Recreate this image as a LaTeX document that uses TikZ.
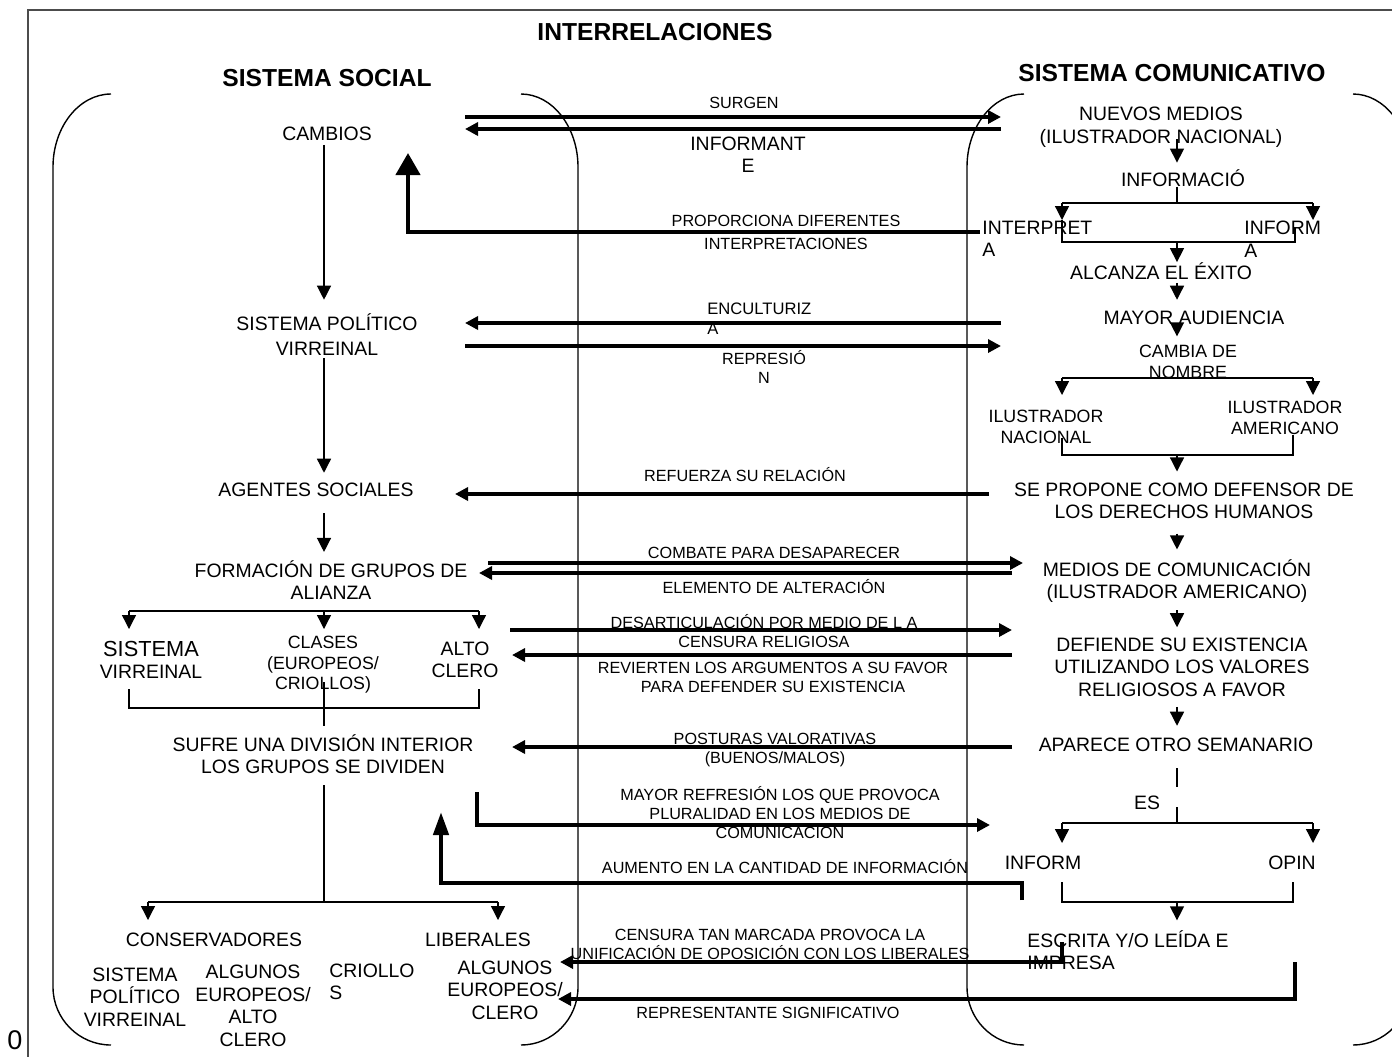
\documentclass[tikz,border=0pt]{standalone}
\usepackage{fontspec}
\setmainfont{Liberation Sans}
\usetikzlibrary{positioning,arrows.meta,calc}

\begin{document}
\begin{tikzpicture}[x=0.5pt,y=-0.5pt,
    txt/.style={inner sep=0pt,align=center,font=\fontsize{9.7}{11.25}\selectfont},
    txts/.style={inner sep=0pt,align=center,font=\fontsize{8.9}{10.3}\selectfont},
    lbl/.style={inner sep=0pt,align=center,font=\fontsize{8.1}{9.5}\selectfont},
    hdr/.style={inner sep=0pt,font=\bfseries\fontsize{12.3}{14}\selectfont},
    bar/.style={line width=0.65pt},
    flow/.style={line width=0.65pt,-{Triangle[length=7pt,width=7pt]}},
    link/.style={line width=1.75pt,-{Triangle[length=6.5pt,width=6.5pt]}},
    fat/.style={line width=2.2pt,-{Triangle[length=11pt,width=12pt]}},
    curl/.style={line width=0.7pt}]
    \path[use as bounding box] (0,0) rectangle (1392,1056);
    \clip (0,0) rectangle (1392,1056);
    % marco y parentesis
    \draw[line width=1pt,black!70] (28,1070) -- (28,10) -- (1400,10);
    \foreach \e/\v in {111/53,521/578,1024/967,1353/1410}
      \draw[curl] (\e,94) .. controls ({\e+0.55*(\v-\e)},94) and (\v,127) .. (\v,167) -- (\v,987)
        .. controls (\v,1019) and ({\e+0.55*(\v-\e)},1045) .. (\e,1045);
    \node[txt,font=\fontsize{13.5}{16}\selectfont] (cero) at (15,1040) {0};
    % titulos
    \node[hdr] (inter) at (655,32) {INTERRELACIONES};
    \node[hdr] (ssoc) at (327,78) {SISTEMA SOCIAL};
    \node[hdr] (scom) at (1172,73) {SISTEMA COMUNICATIVO};

    % sistema social
    \node[txt] (cambios) at (327,134) {CAMBIOS};
    \node[txt,font=\fontsize{9.7}{12.5}\selectfont] (spv) at (327,335) {SISTEMA POLÍTICO\\VIRREINAL};
    \node[txt] (agentes) at (316,490) {AGENTES SOCIALES};
    \node[txt] (formacion) at (331,580) {FORMACIÓN DE GRUPOS DE\\ALIANZA};
    \node[txt] (sisvir) at (151,660) {{\fontsize{10.9}{12}\selectfont SISTEMA}\\VIRREINAL};
    \node[txts] (clases) at (323,665) {CLASES\\(EUROPEOS/\\CRIOLLOS)};
    \node[txt] (alto) at (465,660) {ALTO\\CLERO};
    \node[txt] (sufre) at (323,754) {SUFRE UNA DIVISIÓN INTERIOR\\LOS GRUPOS SE DIVIDEN};
    \node[txt] (conserv) at (214,940) {CONSERVADORES};
    \node[txt] (liberales) at (478,940) {LIBERALES};
    \node[txt] (spv2) at (135,997) {SISTEMA\\POLÍTICO\\VIRREINAL};
    \node[txt] (alg1) at (253,1006) {ALGUNOS\\EUROPEOS/\\ALTO\\CLERO};
    \node[txt,anchor=west,align=left] (criollo) at (329,982) {CRIOLLO\\S};
    \node[txt] (alg2) at (505,990) {ALGUNOS\\EUROPEOS/\\CLERO};

    % sistema comunicativo
    \node[txt] (nuevos) at (1161,127) {NUEVOS MEDIOS\\(ILUSTRADOR NACIONAL)};
    \node[txt] (informacion) at (1183,178) {INFORMACIÓ};
    \node[txt,anchor=west,align=left] (interpreta) at (982,239) {INTERPRET\\A};
    \node[txt,anchor=west,align=left] (informa) at (1244,239) {INFORM\\A};
    \node[txt] (alcanza) at (1161,271) {ALCANZA EL ÉXITO};
    \node[txt] (mayor) at (1194,318) {MAYOR AUDIENCIA};
    \begin{scope}
      \clip (1100,330) rectangle (1280,379);
      \node[txts] (cambia) at (1188,362) {CAMBIA DE\\NOMBRE};
    \end{scope}
    \node[txts] (ilnac) at (1046,427) {ILUSTRADOR\\NACIONAL};
    \node[txts] (ilam) at (1285,418) {ILUSTRADOR\\AMERICANO};
    \node[txt] (propone) at (1184,501) {SE PROPONE COMO DEFENSOR DE\\LOS DERECHOS HUMANOS};
    \node[txt] (medios) at (1177,581) {MEDIOS DE COMUNICACIÓN\\(ILUSTRADOR AMERICANO)};
    \node[txt] (defiende) at (1182,667) {DEFIENDE SU EXISTENCIA\\UTILIZANDO LOS VALORES\\RELIGIOSOS A FAVOR};
    \node[txt] (aparece) at (1176,745) {APARECE OTRO SEMANARIO};
    \node[txt] (es) at (1147,803) {ES};
    \node[txt] (inform) at (1043,863) {INFORM};
    \node[txt] (opin) at (1292,863) {OPIN};
    \node[txt,anchor=west,align=left] (escrita) at (1027,950) {ESCRITA Y/O LEÍDA E\\IMPRESA};

    % interrelaciones
    \node[lbl] (surgen) at (744,103) {SURGEN};
    \node[txt,font=\fontsize{9.7}{11}\selectfont] (informante) at (748,155) {INFORMANT\\E};
    \node[lbl,font=\fontsize{8.1}{11.5}\selectfont] (proporciona) at (786,232) {PROPORCIONA DIFERENTES\\INTERPRETACIONES};
    \node[lbl,anchor=west,align=left,font=\fontsize{8.3}{10}\selectfont] (enculturiza) at (707,319) {ENCULTURIZ\\A};
    \node[lbl] (represion) at (764,367) {REPRESIÓ\\N};
    \node[lbl] (refuerza) at (745,475) {REFUERZA SU RELACIÓN};
    \node[lbl] (combate) at (774,553) {COMBATE PARA DESAPARECER};
    \node[lbl] (elemento) at (774,587) {ELEMENTO DE ALTERACIÓN};
    \node[lbl] (desart) at (764,631) {DESARTICULACIÓN POR MEDIO DE L A\\CENSURA RELIGIOSA};
    \node[lbl] (revierten) at (773,677) {REVIERTEN LOS ARGUMENTOS A SU FAVOR\\PARA DEFENDER SU EXISTENCIA};
    \node[lbl] (posturas) at (775,750) {POSTURAS VALORATIVAS\\(BUENOS/MALOS)};
    \node[lbl] (refresion) at (780,813) {MAYOR REFRESIÓN LOS QUE PROVOCA\\PLURALIDAD EN LOS MEDIOS DE\\COMUNICACIÓN};
    \node[lbl] (aumento) at (785,867) {AUMENTO EN LA CANTIDAD DE INFORMACIÓN};
    \node[lbl] (censura) at (770,944) {CENSURA TAN MARCADA PROVOCA LA\\UNIFICACIÓN DE OPOSICIÓN CON LOS LIBERALES};
    \node[lbl] (represent) at (768,1013) {REPRESENTANTE SIGNIFICATIVO};

    % flechas entre los dos sistemas
    \foreach \n/\xa/\xb/\y in {sur/465/1001/117, inf/1001/465/129, enc/1001/465/323, rep/465/1001/346,
        ref/989/455/494, com/488/1023/563, ele/1012/479/573, des/510/1012/630, rev/1012/512/655, pos/1012/512/747}{
      \coordinate (\n-a) at (\xa,\y);
      \coordinate (\n-b) at (\xb,\y);
      \draw[link] (\n-a) -- (\n-b);
    }
    \coordinate (pro-a) at (980,232); \coordinate (pro-b) at (408,232); \coordinate (pro-c) at (408,153);
    \draw[fat] (pro-a) -- (pro-b) -- (pro-c);
    \coordinate (mr-a) at (477,792); \coordinate (mr-b) at (477,825); \coordinate (mr-c) at (990,825);
    \draw[link,line width=2pt] (mr-a) -- (mr-b) -- (mr-c);
    \coordinate (au-a) at (1022,900); \coordinate (au-b) at (1022,883); \coordinate (au-c) at (441,883); \coordinate (au-d) at (441,812);
    \draw[fat,-{Triangle[length=11.5pt,width=7.5pt]}] (au-a) -- (au-b) -- (au-c) -- (au-d);
    \coordinate (ce-a) at (1062,942); \coordinate (ce-b) at (1062,962); \coordinate (ce-c) at (560,962);
    \draw[link] (ce-a) -- (ce-b) -- (ce-c);
    \coordinate (re-a) at (1295,962); \coordinate (re-b) at (1295,999); \coordinate (re-c) at (558,999);
    \draw[link] (re-a) -- (re-b) -- (re-c);

    % arbol izquierdo
    \coordinate (lax) at (324,0);
    \draw[flow,shorten <=1.75pt,shorten >=7pt] (cambios.south -| lax) -- (spv.north -| lax);
    \draw[flow,shorten <=1pt,shorten >=5pt] (spv.south -| lax) -- (agentes.north -| lax);
    \draw[flow,shorten <=8pt,shorten >=4pt] (agentes.south -| lax) -- (formacion.north -| lax);
    \coordinate (fb-l) at (129,611); \coordinate (fb-m) at (324,611); \coordinate (fb-r) at (479,611);
    \coordinate (fb-t) at (0,629); \coordinate (gb) at (0,708);
    \draw[bar] (fb-l) -- (fb-r);
    \foreach \c in {fb-l,fb-m,fb-r} \draw[flow] (\c) -- (\c |- fb-t);
    \draw[bar,shorten <=5pt,shorten >=5pt] (sisvir.south -| fb-l) -- (fb-l |- gb) -- (fb-r |- gb) -- (alto.south -| fb-r);
    \draw[bar,shorten <=-6pt,shorten >=3.75pt] (clases.south -| lax) -- (sufre.north -| lax);
    \coordinate (sb-l) at (148,902); \coordinate (sb-r) at (498,902); \coordinate (sb-t) at (0,920);
    \draw[bar,shorten <=5.5pt] (sufre.south -| lax) -- (lax |- sb-l);
    \draw[bar] (sb-l) -- (sb-r);
    \foreach \c in {sb-l,sb-r} \draw[flow] (\c) -- (\c |- sb-t);

    % arbol derecho
    \coordinate (rax) at (1177,0);
    \draw[flow,shorten <=-4pt,shorten >=3.25pt] (nuevos.south -| rax) -- (informacion.north -| rax);
    \coordinate (ib-l) at (1062,203); \coordinate (ib-r) at (1313,203); \coordinate (ib-t) at (0,220);
    \draw[bar] (informacion.south -| rax) -- (rax |- ib-l);
    \draw[bar] (ib-l) -- (ib-r);
    \foreach \c in {ib-l,ib-r} \draw[flow] (\c) -- (\c |- ib-t);
    \coordinate (ik-r) at (1295,242); \coordinate (ik-t) at (1295,228);
    \draw[bar] (ib-l |- ib-t) -- (ib-l |- ik-r) -- (ik-r) -- (ik-t);
    \draw[flow] (rax |- ik-r) -- (alcanza.north -| rax);
    \draw[flow,shorten <=1.5pt,shorten >=5.5pt] (alcanza.south -| rax) -- (mayor.north -| rax);
    \draw[flow,shorten <=-1.5pt,shorten >=4.3pt] (mayor.south -| rax) -- (cambia.north -| rax);
    \coordinate (cb-l) at (1062,378); \coordinate (cb-r) at (1313,378); \coordinate (cb-t) at (0,395);
    \draw[bar] (cb-l) -- (cb-r);
    \foreach \c in {cb-l,cb-r} \draw[flow] (\c) -- (\c |- cb-t);
    \coordinate (ub-r) at (1293,455);
    \draw[bar,shorten <=-3.2pt] (ilnac.south -| cb-l) -- (cb-l |- ub-r) -- (ub-r) -- (ub-r |- ilam.south);
    \draw[flow,shorten >=5.5pt] (rax |- ub-r) -- (propone.north -| rax);
    \draw[flow,shorten <=7pt,shorten >=4.75pt] (propone.south -| rax) -- (medios.north -| rax);
    \draw[flow,shorten <=3.5pt,shorten >=5pt] (medios.south -| rax) -- (defiende.north -| rax);
    \draw[flow,shorten <=5pt,shorten >=6pt] (defiende.south -| rax) -- (aparece.north -| rax);
    \coordinate (eb-l) at (1062,823); \coordinate (eb-r) at (1313,823); \coordinate (eb-t) at (0,843);
    \draw[bar,shorten <=8pt,dash pattern=on 9.5pt off 10pt on 20pt] (aparece.south -| rax) -- (rax |- eb-l);
    \draw[bar] (eb-l) -- (eb-r);
    \foreach \c in {eb-l,eb-r} \draw[flow] (\c) -- (\c |- eb-t);
    \coordinate (ob-r) at (1293,902);
    \draw[bar,shorten <=6pt,shorten >=6pt] (inform.south -| eb-l) -- (eb-l |- ob-r) -- (ob-r) -- (ob-r |- opin.south);
    \draw[flow,shorten >=4.75pt] (rax |- ob-r) -- (escrita.north -| rax);
\end{tikzpicture}
\end{document}
